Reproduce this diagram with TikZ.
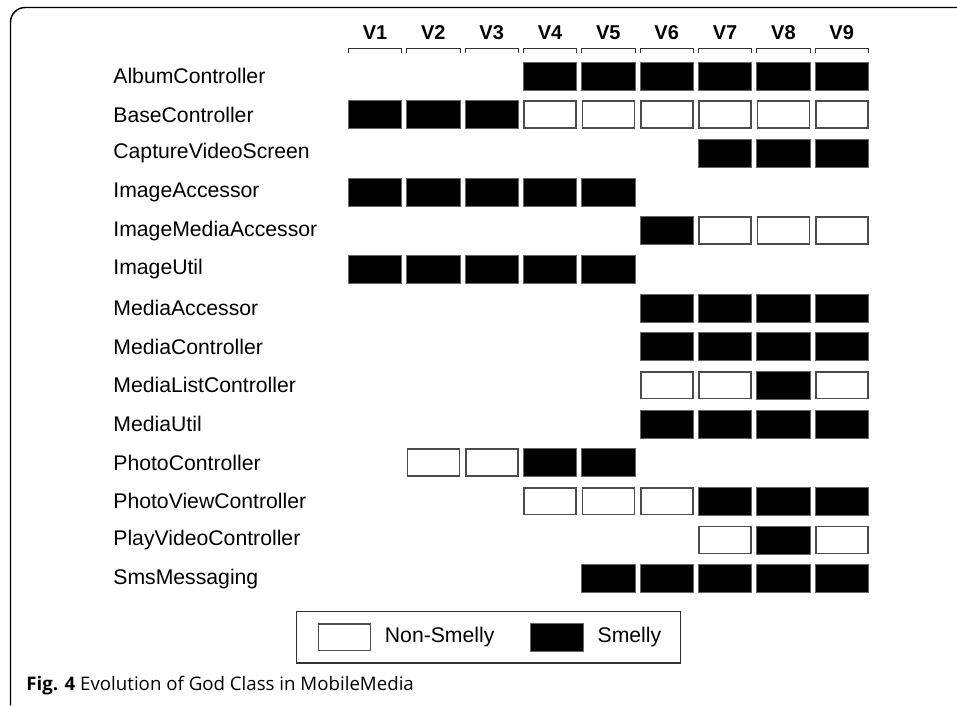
\documentclass[tikz,border=0pt]{standalone}
\usepackage{fontspec}
\setmainfont{Liberation Sans}
\newfontfamily\capfont{Open Sans}
\usetikzlibrary{positioning}

\tikzset{
    smelly/.style={draw=black!60, fill=black, line width=0.5pt, minimum width=40pt, minimum height=21pt, inner sep=0pt},
    clean/.style={draw=black!70, fill=white, line width=1.2pt, minimum width=39pt, minimum height=20pt, inner sep=0pt},
    cls/.style={anchor=west, inner sep=0pt, font=\fontsize{15.9}{18}\selectfont},
    ver/.style={anchor=base, inner sep=0pt, font=\fontsize{15}{17}\selectfont\bfseries},
    brace/.style={draw=black!80, line width=0.8pt}
}

\begin{document}
\begin{tikzpicture}[x=43.75pt, y=29pt]
        \useasboundingbox (-5.429, 0.964) rectangle (10.976, -17.28);
        \draw[line width=1.1pt, rounded corners=11pt] (-5.249, -17.28) -- (-5.249, 0.77) -- (10.976, 0.77);

        \node[ver] (v1) at (1, -0.07) {V1};
        \node[ver] (v2) at (2, -0.07) {V2};
        \node[ver] (v3) at (3, -0.07) {V3};
        \node[ver] (v4) at (4, -0.07) {V4};
        \node[ver] (v5) at (5, -0.07) {V5};
        \node[ver] (v6) at (6, -0.07) {V6};
        \node[ver] (v7) at (7, -0.07) {V7};
        \node[ver] (v8) at (8, -0.07) {V8};
        \node[ver] (v9) at (9, -0.07) {V9};

        \draw[brace] (0.543, -0.4) -- (0.543, -0.28) -- (1.457, -0.28) -- (1.457, -0.4);
        \draw[brace] (1.543, -0.4) -- (1.543, -0.28) -- (2.457, -0.28) -- (2.457, -0.4);
        \draw[brace] (2.543, -0.4) -- (2.543, -0.28) -- (3.457, -0.28) -- (3.457, -0.4);
        \draw[brace] (3.543, -0.4) -- (3.543, -0.28) -- (4.457, -0.28) -- (4.457, -0.4);
        \draw[brace] (4.543, -0.4) -- (4.543, -0.28) -- (5.457, -0.28) -- (5.457, -0.4);
        \draw[brace] (5.543, -0.4) -- (5.543, -0.28) -- (6.457, -0.28) -- (6.457, -0.4);
        \draw[brace] (6.543, -0.4) -- (6.543, -0.28) -- (7.457, -0.28) -- (7.457, -0.4);
        \draw[brace] (7.543, -0.4) -- (7.543, -0.28) -- (8.457, -0.28) -- (8.457, -0.4);
        \draw[brace] (8.543, -0.4) -- (8.543, -0.28) -- (9.457, -0.28) -- (9.457, -0.4);

        \node[cls] (album) at (-3.49, -1) {AlbumController};
        \node[cls] (base) at (-3.49, -2) {BaseController};
        \node[cls] (capture) at (-3.49, -3) {CaptureVideoScreen};
        \node[cls] (imgacc) at (-3.49, -4) {ImageAccessor};
        \node[cls] (imgmedia) at (-3.49, -5) {ImageMediaAccessor};
        \node[cls] (imgutil) at (-3.49, -6) {ImageUtil};
        \node[cls] (medacc) at (-3.49, -7) {MediaAccessor};
        \node[cls] (medctrl) at (-3.49, -8) {MediaController};
        \node[cls] (medlist) at (-3.49, -9) {MediaListController};
        \node[cls] (medutil) at (-3.49, -10) {MediaUtil};
        \node[cls] (photo) at (-3.49, -11) {PhotoController};
        \node[cls] (photoview) at (-3.49, -12) {PhotoViewController};
        \node[cls] (playvideo) at (-3.49, -13) {PlayVideoController};
        \node[cls] (sms) at (-3.49, -14) {SmsMessaging};

        \node[smelly] (album4) at (4, -1) {};
        \node[smelly] (album5) at (5, -1) {};
        \node[smelly] (album6) at (6, -1) {};
        \node[smelly] (album7) at (7, -1) {};
        \node[smelly] (album8) at (8, -1) {};
        \node[smelly] (album9) at (9, -1) {};

        \node[smelly] (base1) at (1, -2) {};
        \node[smelly] (base2) at (2, -2) {};
        \node[smelly] (base3) at (3, -2) {};
        \node[clean] (base4) at (4, -2) {};
        \node[clean] (base5) at (5, -2) {};
        \node[clean] (base6) at (6, -2) {};
        \node[clean] (base7) at (7, -2) {};
        \node[clean] (base8) at (8, -2) {};
        \node[clean] (base9) at (9, -2) {};

        \node[smelly] (capture7) at (7, -3) {};
        \node[smelly] (capture8) at (8, -3) {};
        \node[smelly] (capture9) at (9, -3) {};

        \node[smelly] (imgacc1) at (1, -4) {};
        \node[smelly] (imgacc2) at (2, -4) {};
        \node[smelly] (imgacc3) at (3, -4) {};
        \node[smelly] (imgacc4) at (4, -4) {};
        \node[smelly] (imgacc5) at (5, -4) {};

        \node[smelly] (imgmedia6) at (6, -5) {};
        \node[clean] (imgmedia7) at (7, -5) {};
        \node[clean] (imgmedia8) at (8, -5) {};
        \node[clean] (imgmedia9) at (9, -5) {};

        \node[smelly] (imgutil1) at (1, -6) {};
        \node[smelly] (imgutil2) at (2, -6) {};
        \node[smelly] (imgutil3) at (3, -6) {};
        \node[smelly] (imgutil4) at (4, -6) {};
        \node[smelly] (imgutil5) at (5, -6) {};

        \node[smelly] (medacc6) at (6, -7) {};
        \node[smelly] (medacc7) at (7, -7) {};
        \node[smelly] (medacc8) at (8, -7) {};
        \node[smelly] (medacc9) at (9, -7) {};

        \node[smelly] (medctrl6) at (6, -8) {};
        \node[smelly] (medctrl7) at (7, -8) {};
        \node[smelly] (medctrl8) at (8, -8) {};
        \node[smelly] (medctrl9) at (9, -8) {};

        \node[clean] (medlist6) at (6, -9) {};
        \node[clean] (medlist7) at (7, -9) {};
        \node[smelly] (medlist8) at (8, -9) {};
        \node[clean] (medlist9) at (9, -9) {};

        \node[smelly] (medutil6) at (6, -10) {};
        \node[smelly] (medutil7) at (7, -10) {};
        \node[smelly] (medutil8) at (8, -10) {};
        \node[smelly] (medutil9) at (9, -10) {};

        \node[clean] (photo2) at (2, -11) {};
        \node[clean] (photo3) at (3, -11) {};
        \node[smelly] (photo4) at (4, -11) {};
        \node[smelly] (photo5) at (5, -11) {};

        \node[clean] (photoview4) at (4, -12) {};
        \node[clean] (photoview5) at (5, -12) {};
        \node[clean] (photoview6) at (6, -12) {};
        \node[smelly] (photoview7) at (7, -12) {};
        \node[smelly] (photoview8) at (8, -12) {};
        \node[smelly] (photoview9) at (9, -12) {};

        \node[clean] (playvideo7) at (7, -13) {};
        \node[smelly] (playvideo8) at (8, -13) {};
        \node[clean] (playvideo9) at (9, -13) {};

        \node[smelly] (sms5) at (5, -14) {};
        \node[smelly] (sms6) at (6, -14) {};
        \node[smelly] (sms7) at (7, -14) {};
        \node[smelly] (sms8) at (8, -14) {};
        \node[smelly] (sms9) at (9, -14) {};

        \draw[draw=black!80, line width=0.9pt] (-0.342, -14.86) rectangle (6.24, -16.18);
        \node[clean, line width=0.9pt] (keyclean) at (0.48, -15.52) {};
        \node[cls, right=10pt of keyclean] (keycleantext) {Non-Smelly};
        \node[smelly] (keysmelly) at (4.12, -15.52) {};
        \node[cls, right=10pt of keysmelly] (keysmellytext) {Smelly};

        \node[anchor=west, inner sep=0pt, font=\capfont\fontsize{14}{16}\selectfont] (caption) at (-4.98, -16.76) {\textbf{Fig. 4} Evolution of God Class in MobileMedia};
    \end{tikzpicture}
\end{document}
